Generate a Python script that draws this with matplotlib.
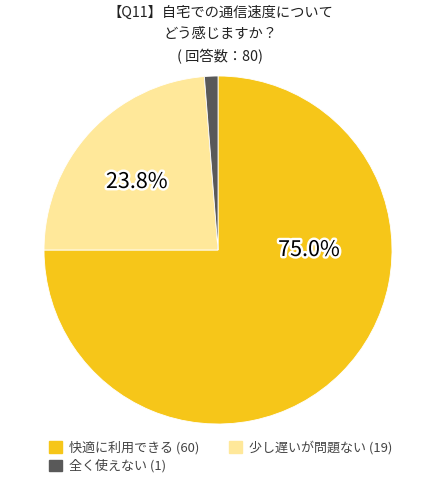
import matplotlib.pyplot as plt
import matplotlib.patheffects as pe
from matplotlib.patches import Patch

plt.rcParams['font.family'] = ['Noto Sans CJK JP', 'DejaVu Sans']

title = "【Q11】自宅での通信速度について\nどう感じますか？\n( 回答数：80)"
labels = ["快適に利用できる", "少し遅いが問題ない", "全く使えない"]
counts = [60, 19, 1]
colors = ["#F6C619", "#FFE89A", "#595959"]
pct_text = ["75.0%", "23.8%", ""]

fig = plt.figure(figsize=(4.4, 5.0), dpi=100)
ax = fig.add_axes([0.1, 0.152, 0.791, 0.696])
ax.pie(counts, colors=colors, startangle=90, counterclock=False,
       wedgeprops=dict(linewidth=0.6, edgecolor='white'))
ax.set_xlim(-1, 1)
ax.set_ylim(-1, 1)
ax.set_aspect('equal')

# percentage labels
lab_pos = [(0.523, 0.0), (-0.466, 0.391)]
for (x, y), t in zip(lab_pos, pct_text):
    ax.text(x, y, t, ha='center', va='center', fontsize=15.5, color='black',
            path_effects=[pe.withStroke(linewidth=3.5, foreground='white')])

fig.text(0.5, 0.988, title, ha='center', va='top', fontsize=10.3,
         color='#222222', linespacing=1.62)

handles = [Patch(color=c) for c in colors]
names = ["%s (%d)" % (l, n) for l, n in zip(labels, counts)]
order = [0, 2, 1]
fig.legend([handles[i] for i in order], [names[i] for i in order],
           ncol=2, loc='upper left', bbox_to_anchor=(0.085, 0.142),
           frameon=False, fontsize=9.4, handlelength=0.95, handleheight=0.95,
           handletextpad=0.55, columnspacing=2.3, labelspacing=0.35,
           labelcolor='#444444')

fig.savefig("out.png", dpi=100)
